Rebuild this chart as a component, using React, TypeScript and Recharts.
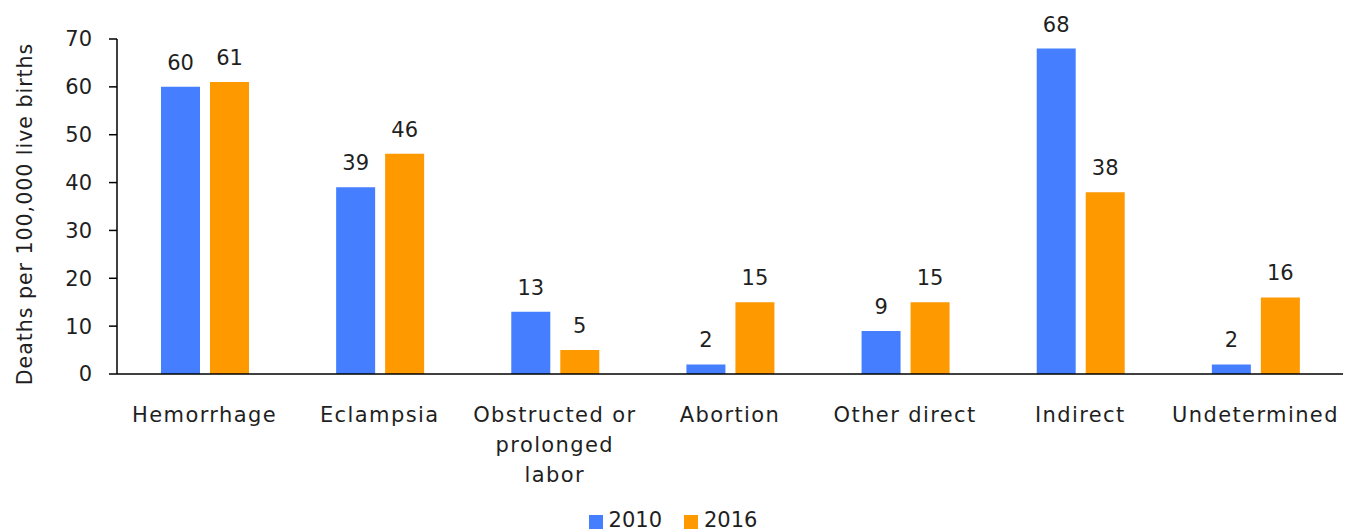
import { Bar, BarChart, LabelList, Legend, XAxis, YAxis } from "recharts";

const categories = [
  "Hemorrhage",
  "Eclampsia",
  "Obstructed or\nprolonged\nlabor",
  "Abortion",
  "Other direct",
  "Indirect",
  "Undetermined",
];
const values2010 = [60, 39, 13, 2, 9, 68, 2];
const values2016 = [61, 46, 5, 15, 15, 38, 16];
const yTicks = [0, 10, 20, 30, 40, 50, 60, 70];

const data = categories.map((cause, i) => ({
  cause,
  y2010: values2010[i],
  y2016: values2016[i],
}));

const FONT = "'DejaVu Sans', sans-serif";
const INK = "#1f1f1f";

function CauseTick({ x, y, payload }: any) {
  const lines = String(payload.value).split("\n");
  return (
    <text x={x} y={y} textAnchor="middle" fontFamily={FONT} fontSize={21} fill={INK} letterSpacing={1.4}>
      {lines.map((line, i) => (
        <tspan key={i} x={x} dy={i === 0 ? 40 : 30}>
          {line}
        </tspan>
      ))}
    </text>
  );
}

function YTitle() {
  return (
    <text
      x={25}
      y={214}
      transform="rotate(-90 25 214)"
      textAnchor="middle"
      dominantBaseline="central"
      fontFamily={FONT}
      fontSize={20.5}
      fill={INK}
      letterSpacing={1}
    >
      Deaths per 100,000 live births
    </text>
  );
}

function LegendBox({ payload }: any) {
  return (
    <div style={{ display: "flex", justifyContent: "center", gap: 22, fontFamily: FONT, fontSize: 21, color: INK }}>
      {(payload || []).map((p: any) => (
        <div key={p.value} style={{ display: "flex", alignItems: "center", gap: 6 }}>
          <span style={{ width: 14, height: 14, background: p.color, display: "inline-block", marginTop: 4 }} />
          <span>{p.value}</span>
        </div>
      ))}
    </div>
  );
}

export default function App() {
  return (
    <div style={{ position: "absolute", left: 0, top: 0, background: "#fff" }}>
      <BarChart width={1346} height={532} data={data} margin={{ top: 39, right: 3, left: 0, bottom: 0 }} barSize={39} barGap={10}>
        <XAxis
          dataKey="cause"
          height={158}
          interval={0}
          tickLine={false}
          axisLine={{ stroke: "#000", strokeWidth: 1.5 }}
          tick={<CauseTick />}
        />
        <YAxis
          width={117}
          domain={[0, 70]}
          ticks={yTicks}
          tickSize={8}
          tickMargin={17}
          axisLine={{ stroke: "#000", strokeWidth: 1.5 }}
          tickLine={{ stroke: "#000", strokeWidth: 1.5 }}
          tick={{ fontFamily: FONT, fontSize: 21, fill: INK }}
          label={{ content: () => <YTitle /> }}
        />
        <Legend
          verticalAlign="middle"
          align="center"
          content={<LegendBox />}
          wrapperStyle={{ top: 508, left: 0, width: 1346 }}
        />
        <Bar dataKey="y2010" name="2010" fill="#457EFF" isAnimationActive={false}>
          <LabelList dataKey="y2010" position="top" offset={17} fontFamily={FONT} fontSize={21} fill={INK} />
        </Bar>
        <Bar dataKey="y2016" name="2016" fill="#FF9900" isAnimationActive={false}>
          <LabelList dataKey="y2016" position="top" offset={17} fontFamily={FONT} fontSize={21} fill={INK} />
        </Bar>
      </BarChart>
    </div>
  );
}
